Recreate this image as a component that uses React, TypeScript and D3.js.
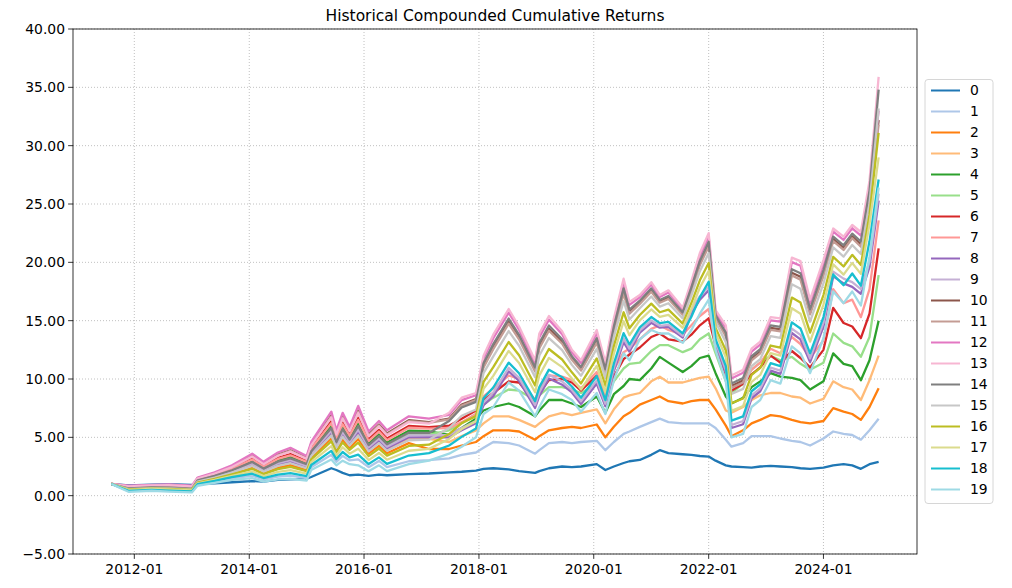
import React from "react";
import * as d3 from "d3";

// observation dates (irregular, at the visible turning points)
const dates = [
  "2011-08-08", "2011-11-25", "2012-04-20", "2012-08-08", "2013-01-01", "2013-02-06", "2013-05-26", "2013-09-13",
  "2014-01-20", "2014-04-02", "2014-07-02", "2014-09-20", "2015-01-01", "2015-01-30", "2015-06-07", "2015-07-09",
  "2015-08-18", "2015-10-01", "2015-11-25", "2016-01-30", "2016-04-05", "2016-05-26", "2016-10-12", "2017-02-17",
  "2017-06-25", "2017-09-13", "2017-12-13", "2018-01-30", "2018-04-02", "2018-07-09", "2018-09-13", "2018-12-24",
  "2019-01-20", "2019-03-22", "2019-06-14", "2019-08-15", "2019-10-12", "2020-01-20", "2020-03-15", "2020-05-08",
  "2020-07-09", "2020-08-15", "2020-10-20", "2021-01-01", "2021-02-24", "2021-04-20", "2021-07-20", "2021-09-13",
  "2021-11-06", "2022-01-01", "2022-02-14", "2022-04-20", "2022-05-26", "2022-08-08", "2022-10-01", "2022-11-25",
  "2023-01-30", "2023-04-02", "2023-06-14", "2023-08-08", "2023-10-08", "2024-01-01", "2024-03-03", "2024-05-08",
  "2024-07-02", "2024-08-26", "2024-10-20", "2024-12-17",
];

const s0 = [1.0, 0.88, 0.95, 0.98, 0.93, 1.0, 1.05, 1.15, 1.25, 1.2, 1.35, 1.4, 1.45, 1.6, 2.35, 2.2, 1.95, 1.75, 1.8, 1.7, 1.8, 1.75, 1.85, 1.9, 2.0, 2.05, 2.15, 2.3, 2.35, 2.25, 2.1, 1.95, 2.1, 2.35, 2.5, 2.45, 2.5, 2.7, 2.2, 2.5, 2.8, 2.95, 3.06, 3.5, 3.9, 3.65, 3.55, 3.5, 3.4, 3.35, 3.0, 2.6, 2.5, 2.45, 2.4, 2.5, 2.55, 2.5, 2.45, 2.35, 2.3, 2.4, 2.6, 2.7, 2.6, 2.3, 2.7, 2.9];
const s1 = [1.0, 0.82, 0.91, 0.94, 0.82, 0.92, 1.19, 1.48, 1.71, 1.37, 1.63, 1.72, 1.51, 2.44, 3.51, 2.9, 3.41, 3.02, 3.11, 2.44, 2.98, 2.45, 2.95, 3.05, 3.2, 3.5, 3.7, 4.1, 4.6, 4.5, 4.3, 3.6, 3.9, 4.5, 4.6, 4.5, 4.6, 4.7, 3.9, 4.6, 5.3, 5.5, 5.9, 6.3, 6.6, 6.3, 6.2, 6.2, 6.2, 6.2, 5.8, 4.8, 4.2, 4.5, 5.1, 5.1, 5.1, 4.9, 4.7, 4.6, 4.3, 4.9, 5.5, 5.3, 5.2, 4.8, 5.6, 6.6];
const s2 = [1.0, 0.8, 0.88, 0.91, 0.79, 1.16, 1.5, 1.9, 2.42, 1.95, 2.41, 2.62, 2.22, 3.26, 4.9, 3.92, 4.8, 4.11, 4.84, 3.6, 4.27, 3.64, 4.5, 4.0, 4.0, 4.3, 4.6, 5.1, 5.6, 5.6, 5.5, 4.8, 5.1, 5.6, 5.8, 5.9, 5.8, 6.1, 5.0, 5.9, 6.8, 7.1, 7.8, 8.2, 8.5, 8.1, 7.9, 8.1, 8.2, 8.2, 7.4, 6.0, 5.1, 5.6, 6.2, 6.5, 6.9, 6.8, 6.5, 6.3, 6.2, 6.4, 7.5, 7.2, 7.0, 6.5, 7.6, 9.2];
const s3 = [1.0, 0.77, 0.85, 0.88, 0.77, 1.21, 1.57, 2.0, 2.59, 2.08, 2.6, 2.83, 2.39, 3.45, 5.23, 4.16, 5.13, 4.36, 5.25, 3.87, 4.58, 3.92, 4.83, 4.87, 4.6, 5.1, 5.6, 6.2, 6.8, 6.8, 6.5, 5.9, 6.2, 6.8, 7.1, 6.9, 7.1, 7.4, 6.2, 7.4, 8.4, 8.6, 8.8, 9.8, 10.2, 9.7, 9.7, 9.9, 10.1, 10.2, 9.2, 7.3, 7.1, 7.6, 8.2, 8.6, 8.8, 8.8, 8.5, 8.4, 7.9, 8.3, 9.8, 9.3, 9.1, 8.2, 9.9, 12.0];
const s4 = [1.0, 0.75, 0.83, 0.85, 0.74, 1.34, 1.73, 2.23, 2.97, 2.39, 3.01, 3.31, 2.77, 3.88, 5.97, 4.7, 5.87, 4.94, 6.17, 4.48, 5.26, 4.55, 5.57, 5.52, 5.2, 5.8, 6.6, 7.3, 7.6, 7.9, 7.6, 6.8, 7.3, 8.2, 8.2, 7.9, 7.6, 8.5, 7.1, 8.7, 9.4, 10.0, 9.9, 10.9, 11.9, 11.4, 10.6, 11.1, 11.8, 12.0, 10.5, 8.5, 7.9, 8.4, 9.3, 9.8, 10.5, 10.2, 10.1, 9.9, 9.1, 9.8, 12.2, 11.3, 11.1, 9.9, 11.6, 15.0];
const s5 = [1.0, 0.72, 0.8, 0.82, 0.71, 1.28, 1.66, 2.13, 2.8, 2.25, 2.83, 3.09, 2.6, 3.69, 5.64, 4.46, 5.54, 4.68, 5.76, 4.21, 4.96, 4.27, 5.24, 5.23, 5.6, 6.2, 7.0, 7.8, 8.4, 9.1, 9.0, 8.2, 8.6, 9.3, 9.3, 9.1, 8.8, 9.6, 8.2, 9.8, 10.9, 11.3, 11.4, 12.4, 12.9, 12.9, 12.3, 12.6, 13.4, 13.9, 12.2, 9.8, 8.8, 9.6, 10.8, 11.4, 12.0, 11.6, 11.9, 11.3, 10.8, 11.4, 13.9, 13.1, 12.8, 11.9, 13.6, 18.9];
const s6 = [1.0, 0.7, 0.79, 0.8, 0.69, 1.41, 1.82, 2.35, 3.18, 2.56, 3.24, 3.57, 2.98, 4.12, 6.38, 5.0, 6.28, 5.26, 6.68, 4.82, 5.64, 4.9, 5.98, 5.88, 6.0, 6.6, 7.3, 8.2, 8.8, 9.8, 9.7, 8.0, 8.8, 9.9, 10.0, 9.7, 9.0, 10.3, 8.4, 10.2, 11.7, 12.1, 12.7, 13.6, 13.9, 13.4, 13.2, 13.8, 14.6, 15.2, 12.8, 10.4, 9.0, 9.6, 10.4, 11.0, 12.0, 11.4, 12.4, 11.8, 11.0, 12.5, 16.1, 14.8, 14.5, 13.5, 15.6, 21.2];
const s7 = [1.0, 0.68, 0.77, 0.77, 0.67, 1.38, 1.78, 2.3, 3.1, 2.49, 3.15, 3.46, 2.9, 4.02, 6.22, 4.88, 6.12, 5.13, 6.48, 4.68, 5.49, 4.76, 5.82, 5.74, 5.8, 6.3, 7.0, 8.5, 9.2, 10.3, 10.0, 8.2, 9.2, 10.3, 10.2, 9.9, 9.2, 10.6, 8.4, 10.8, 12.3, 12.6, 13.4, 14.3, 14.6, 14.2, 13.8, 14.6, 15.4, 16.0, 13.2, 11.0, 9.3, 9.9, 10.8, 11.4, 12.6, 12.2, 13.6, 13.0, 11.8, 13.3, 17.7, 16.5, 16.8, 15.3, 17.7, 23.6];
const s8 = [1.0, 0.65, 0.74, 0.73, 0.63, 1.24, 1.6, 2.05, 2.68, 2.15, 2.69, 2.93, 2.48, 3.54, 5.4, 4.28, 5.3, 4.49, 5.46, 4.0, 4.73, 4.06, 5.0, 5.02, 5.0, 5.6, 6.2, 7.75, 8.53, 10.65, 9.83, 7.52, 8.55, 10.05, 9.51, 8.85, 7.86, 9.61, 7.66, 10.7, 13.16, 12.35, 13.97, 14.82, 14.4, 14.46, 13.55, 15.6, 16.8, 17.6, 13.0, 10.52, 5.8, 6.12, 8.35, 8.95, 10.71, 10.44, 13.94, 13.39, 11.45, 14.5, 18.8, 18.2, 17.9, 17.3, 19.6, 25.3];
const s9 = [1.0, 0.64, 0.73, 0.72, 0.62, 1.27, 1.64, 2.1, 2.76, 2.22, 2.78, 3.04, 2.56, 3.64, 5.56, 4.4, 5.46, 4.62, 5.66, 4.14, 4.88, 4.2, 5.16, 5.16, 5.2, 5.8, 6.4, 8.0, 8.84, 10.96, 10.1, 7.76, 8.86, 10.36, 9.78, 9.06, 8.08, 9.88, 7.88, 10.96, 13.48, 12.6, 14.16, 15.02, 14.56, 14.64, 13.7, 15.9, 17.1, 17.9, 13.18, 10.76, 6.06, 6.4, 8.6, 9.2, 10.98, 10.72, 14.32, 13.78, 11.76, 14.84, 19.2, 18.6, 18.3, 17.7, 20.1, 25.9];
const s10 = [1.0, 0.69, 0.78, 0.78, 0.68, 1.49, 1.93, 2.5, 3.43, 2.76, 3.52, 3.89, 3.23, 4.41, 6.87, 5.36, 6.77, 5.64, 7.29, 5.23, 6.1, 5.32, 6.47, 6.31, 6.61, 7.81, 8.27, 11.15, 12.75, 14.93, 13.57, 10.78, 12.83, 14.33, 13.18, 11.77, 10.85, 13.28, 10.65, 14.3, 17.51, 15.75, 16.55, 17.6, 16.64, 16.97, 15.59, 17.69, 19.92, 21.53, 15.32, 13.78, 9.4, 9.87, 11.75, 12.35, 14.38, 14.25, 19.11, 18.76, 15.73, 19.06, 21.98, 21.23, 22.23, 21.53, 25.9, 32.2];
const s11 = [1.0, 0.67, 0.75, 0.75, 0.65, 1.48, 1.91, 2.48, 3.39, 2.73, 3.47, 3.84, 3.19, 4.36, 6.79, 5.3, 6.69, 5.58, 7.19, 5.16, 6.02, 5.25, 6.39, 6.24, 6.54, 7.73, 8.19, 11.0, 12.56, 14.74, 13.4, 10.64, 12.64, 14.14, 13.02, 11.64, 10.72, 13.12, 10.52, 14.14, 17.32, 15.6, 16.44, 17.48, 16.54, 16.86, 15.5, 17.56, 19.76, 21.36, 15.22, 13.64, 9.24, 9.7, 11.6, 12.2, 14.22, 14.08, 18.88, 18.52, 15.54, 18.86, 21.82, 21.06, 22.06, 21.34, 25.7, 31.8];
const s12 = [1.0, 0.85, 0.93, 0.97, 0.85, 1.55, 2.0, 2.6, 3.6, 2.9, 3.7, 4.1, 3.4, 4.6, 7.2, 5.6, 7.1, 5.9, 7.7, 5.5, 6.4, 5.6, 6.8, 6.6, 6.93, 8.19, 8.61, 11.75, 13.49, 15.69, 14.23, 11.36, 13.59, 15.09, 13.83, 12.29, 11.38, 13.93, 11.18, 14.94, 18.28, 16.35, 17.01, 18.1, 17.04, 17.42, 15.95, 18.19, 20.54, 22.22, 15.73, 14.36, 10.04, 10.53, 12.35, 12.95, 15.03, 14.92, 20.02, 19.71, 16.49, 19.87, 22.63, 21.92, 22.92, 22.29, 26.0, 33.0];
const s13 = [1.0, 0.8, 0.88, 0.91, 0.79, 1.47, 1.89, 2.45, 3.35, 2.7, 3.42, 3.78, 3.15, 4.31, 6.71, 5.24, 6.61, 5.52, 7.09, 5.09, 5.94, 5.18, 6.31, 6.17, 7.1, 8.4, 8.8, 12.0, 13.8, 16.0, 14.5, 11.6, 13.9, 15.4, 14.1, 12.5, 11.6, 14.2, 11.4, 15.2, 18.6, 16.6, 17.2, 18.3, 17.2, 17.6, 16.1, 18.4, 20.8, 22.5, 15.9, 14.6, 10.3, 10.8, 12.6, 13.2, 15.3, 15.2, 20.4, 20.1, 16.8, 20.2, 22.9, 22.2, 23.2, 22.6, 27.0, 35.9];
const s14 = [1.0, 0.62, 0.7, 0.69, 0.59, 1.31, 1.69, 2.18, 2.89, 2.32, 2.92, 3.2, 2.69, 3.78, 5.81, 4.58, 5.71, 4.81, 5.97, 4.34, 5.11, 4.41, 5.41, 5.38, 6.4, 7.56, 8.04, 11.35, 12.99, 15.18, 13.79, 10.98, 13.08, 14.58, 13.4, 11.94, 11.03, 13.5, 10.83, 14.51, 17.77, 15.95, 16.71, 17.77, 16.77, 17.12, 15.71, 17.85, 20.12, 21.76, 15.46, 13.98, 9.61, 10.09, 11.95, 12.55, 14.6, 14.47, 19.41, 19.07, 15.98, 19.33, 22.2, 21.46, 22.46, 21.78, 26.15, 34.8];
const s15 = [1.0, 0.56, 0.65, 0.63, 0.54, 1.2, 1.55, 1.98, 2.55, 2.05, 2.55, 2.78, 2.35, 3.4, 5.15, 4.1, 5.05, 4.3, 5.15, 3.8, 4.5, 3.85, 4.75, 4.8, 5.8, 6.85, 7.39, 10.5, 11.94, 14.11, 12.85, 10.16, 12.01, 13.51, 12.48, 11.21, 10.28, 12.58, 10.08, 13.61, 16.68, 15.1, 16.06, 17.07, 16.21, 16.49, 15.2, 17.14, 19.24, 20.79, 14.88, 13.16, 8.71, 9.15, 11.1, 11.7, 13.68, 13.52, 18.12, 17.73, 14.91, 18.19, 21.28, 20.49, 21.49, 20.71, 25.05, 33.2];
const s16 = [1.0, 0.53, 0.61, 0.59, 0.5, 1.12, 1.44, 1.83, 2.3, 1.85, 2.27, 2.46, 2.1, 3.11, 4.66, 3.74, 4.56, 3.92, 4.54, 3.39, 4.04, 3.43, 4.26, 4.37, 5.28, 6.22, 6.82, 9.75, 11.01, 13.17, 12.03, 9.44, 11.07, 12.57, 11.67, 10.57, 9.62, 11.77, 9.42, 12.82, 15.72, 14.35, 15.49, 16.46, 15.72, 15.94, 14.75, 16.51, 18.46, 19.94, 14.37, 12.44, 7.92, 8.33, 10.35, 10.95, 12.87, 12.68, 16.98, 16.55, 13.97, 17.19, 20.47, 19.64, 20.64, 19.77, 24.08, 31.1];
const s17 = [1.0, 0.49, 0.57, 0.54, 0.45, 1.05, 1.35, 1.7, 2.09, 1.68, 2.04, 2.19, 1.89, 2.87, 4.25, 3.44, 4.15, 3.6, 4.03, 3.05, 3.66, 3.08, 3.85, 4.01, 4.86, 5.71, 6.37, 9.15, 10.27, 12.41, 11.37, 8.86, 10.31, 11.81, 11.02, 10.05, 9.09, 11.12, 8.89, 12.18, 14.95, 13.75, 15.03, 15.96, 15.32, 15.49, 14.39, 16.01, 17.84, 19.25, 13.96, 11.86, 7.28, 7.67, 9.75, 10.35, 12.22, 12.01, 16.07, 15.6, 13.21, 16.38, 19.82, 18.95, 19.95, 19.01, 23.3, 29.0];
const s18 = [1.0, 0.41, 0.5, 0.44, 0.37, 0.98, 1.26, 1.58, 1.88, 1.51, 1.81, 1.93, 1.68, 2.63, 3.84, 3.14, 3.74, 3.28, 3.52, 2.71, 3.28, 2.73, 3.44, 3.65, 4.3, 5.04, 5.76, 8.35, 9.27, 11.4, 10.49, 8.1, 9.3, 10.8, 10.16, 9.36, 8.39, 10.26, 8.19, 11.33, 13.93, 12.95, 14.43, 15.31, 14.79, 14.9, 13.91, 15.33, 17.0, 18.34, 13.42, 11.1, 6.43, 6.79, 8.95, 9.55, 11.36, 11.11, 14.85, 14.33, 12.2, 15.31, 18.96, 18.04, 19.04, 18.0, 21.8, 27.1];
const s19 = [1.0, 0.33, 0.42, 0.35, 0.28, 0.85, 1.1, 1.35, 1.5, 1.2, 1.4, 1.45, 1.3, 2.2, 3.1, 2.6, 3.0, 2.7, 2.6, 2.1, 2.6, 2.1, 2.7, 3.0, 3.6, 4.2, 5.0, 7.0, 7.6, 9.7, 9.0, 6.8, 7.6, 9.1, 8.7, 8.2, 7.2, 8.8, 7.0, 9.9, 12.2, 11.6, 13.4, 14.2, 13.9, 13.9, 13.1, 14.2, 15.6, 16.8, 12.5, 9.8, 5.0, 5.3, 7.6, 8.2, 9.9, 9.6, 12.8, 12.2, 10.5, 13.5, 17.5, 16.5, 17.5, 16.3, 20.5, 26.4];

const series = [s0, s1, s2, s3, s4, s5, s6, s7, s8, s9, s10, s11, s12, s13, s14, s15, s16, s17, s18, s19];
const names = series.map((_, i) => String(i));
const yTicks = [-5, 0, 5, 10, 15, 20, 25, 30, 35, 40];
const xTickYears = [2012, 2014, 2016, 2018, 2020, 2022, 2024];

const tab20 = [
  "#1f77b4", "#aec7e8", "#ff7f0e", "#ffbb78", "#2ca02c", "#98df8a", "#d62728", "#ff9896", "#9467bd", "#c5b0d5",
  "#8c564b", "#c49c94", "#e377c2", "#f7b6d2", "#7f7f7f", "#c7c7c7", "#bcbd22", "#dbdb8d", "#17becf", "#9edae5",
];

const W = 1012;
const H = 588;
const margin = { left: 73, top: 29, right: 95, bottom: 34 };
const font = "DejaVu Sans, sans-serif";

export default function App() {
  const parse = d3.timeParse("%Y-%m-%d");
  const time = dates.map((d) => parse(d) as Date);

  const innerW = W - margin.left - margin.right;
  const innerH = H - margin.top - margin.bottom;

  // matplotlib-like 5% margin on x
  const [t0, t1] = d3.extent(time) as [Date, Date];
  const pad = (t1.getTime() - t0.getTime()) * 0.05;
  const x = d3
    .scaleTime()
    .domain([new Date(t0.getTime() - pad), new Date(t1.getTime() + pad)])
    .range([0, innerW]);
  const y = d3.scaleLinear().domain([-5, 40]).range([innerH, 0]);

  const line = d3
    .line<number>()
    .x((_, i) => x(time[i]))
    .y((v) => y(v));

  const xTicks = xTickYears.map((yr) => new Date(yr, 0, 1));
  const fmtX = d3.timeFormat("%Y-%m");

  const legendX = margin.left + innerW + 8;
  const rowH = 21;
  const legendH = series.length * rowH + 4;
  const legendY = margin.top + innerH / 2 - legendH / 2;

  return (
    <div style={{ position: "absolute", left: 0, top: 0 }}>
      <svg width={W} height={H} style={{ display: "block", background: "#fff" }}>
        <text x={margin.left + innerW / 2} y={21} textAnchor="middle" fontFamily={font} fontSize={15.5}>
          Historical Compounded Cumulative Returns
        </text>
        <g transform={`translate(${margin.left},${margin.top})`}>
          <defs>
            <clipPath id="plot">
              <rect width={innerW} height={innerH} />
            </clipPath>
          </defs>
          {yTicks.map((t) => (
            <line key={"gy" + t} x1={0} x2={innerW} y1={y(t)} y2={y(t)} stroke="#b0b0b0" strokeWidth={0.8} strokeDasharray="1,2" />
          ))}
          {xTicks.map((t, i) => (
            <line key={"gx" + i} x1={x(t)} x2={x(t)} y1={0} y2={innerH} stroke="#b0b0b0" strokeWidth={0.8} strokeDasharray="1,2" />
          ))}
          <g clipPath="url(#plot)">
            {series.map((s, i) => (
              <path key={i} d={line(s) || ""} fill="none" stroke={tab20[i]} strokeWidth={2.3} strokeLinejoin="round" />
            ))}
          </g>
          <rect width={innerW} height={innerH} fill="none" stroke="#000" strokeWidth={0.8} />
          {yTicks.map((t) => (
            <g key={"ty" + t} transform={`translate(0,${y(t)})`}>
              <line x1={-4.9} x2={0} stroke="#000" strokeWidth={0.8} />
              <text x={-8} dy="0.35em" textAnchor="end" fontFamily={font} fontSize={13.9}>
                {d3.format(".2f")(t)}
              </text>
            </g>
          ))}
          {xTicks.map((t, i) => (
            <g key={"tx" + i} transform={`translate(${x(t)},${innerH})`}>
              <line y1={0} y2={4.9} stroke="#000" strokeWidth={0.8} />
              <text y={20} textAnchor="middle" fontFamily={font} fontSize={13.9}>
                {fmtX(t)}
              </text>
            </g>
          ))}
        </g>
        <g transform={`translate(${legendX},${legendY})`}>
          <rect width={68} height={legendH} rx={3} fill="#fff" fillOpacity={0.8} stroke="#cccccc" strokeWidth={0.8} />
          {names.map((n, i) => (
            <g key={n} transform={`translate(0,${11 + i * rowH})`}>
              <line x1={6} x2={35} stroke={tab20[i]} strokeWidth={2} />
              <text x={45} dy="0.35em" fontFamily={font} fontSize={13.9}>
                {n}
              </text>
            </g>
          ))}
        </g>
      </svg>
    </div>
  );
}
